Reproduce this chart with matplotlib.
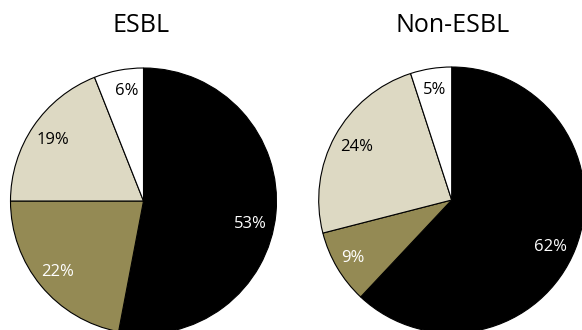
import numpy as np
import matplotlib
matplotlib.use("Agg")
import matplotlib.pyplot as plt

plt.rcParams['font.family'] = ['Open Sans', 'DejaVu Sans']

# share of isolates per group (clockwise from 12 o'clock)
titles = ['ESBL', 'Non-ESBL']
esbl = [53, 22, 19, 6]
non_esbl = [62, 9, 24, 5]
colours = ['#000000', '#948A54', '#DDD9C3', '#FFFFFF']
text_colours = ['white', 'white', 'black', 'black']

fig = plt.figure(figsize=(5.82, 3.30), dpi=100)

# pie centres and radius in pixels
W, H = 582, 330
R = 133
centres = [(143.5, 201), (451.7, 200)]
title_x = [141, 453]
# small angular nudges (degrees) for labels that sit off the wedge middle
nudges = [{0: -7, 3: -2}, {0: -4}]
label_dist = [0.82, 0.84, 0.82, 0.835]

for k, (vals, title) in enumerate(zip([esbl, non_esbl], titles)):
    cx, cy = centres[k]
    ax = fig.add_axes([(cx - R) / W, (H - cy - R) / H, 2 * R / W, 2 * R / H])
    wedges, texts, autotexts = ax.pie(
        vals, colors=colours, startangle=90, counterclock=False,
        autopct=lambda p: f'{p:.0f}%', pctdistance=0.82,
        wedgeprops=dict(edgecolor='black', linewidth=0.8),
        textprops=dict(fontsize=12))
    for i, t in enumerate(autotexts):
        t.set_color(text_colours[i])
        w = wedges[i]
        ang = np.radians((w.theta1 + w.theta2) / 2 + nudges[k].get(i, 0))
        r = 0.86 if vals[i] < 10 and i == 1 else label_dist[i]
        t.set_position((r * np.cos(ang), r * np.sin(ang)))
    ax.set_xlim(-1, 1)
    ax.set_ylim(-1, 1)
    ax.set_aspect('equal')
    ax.axis('off')
    fig.text(title_x[k] / W, 1 - 26 / H, title, fontsize=18,
             ha='center', va='center')

fig.savefig('out.png', dpi=100)
